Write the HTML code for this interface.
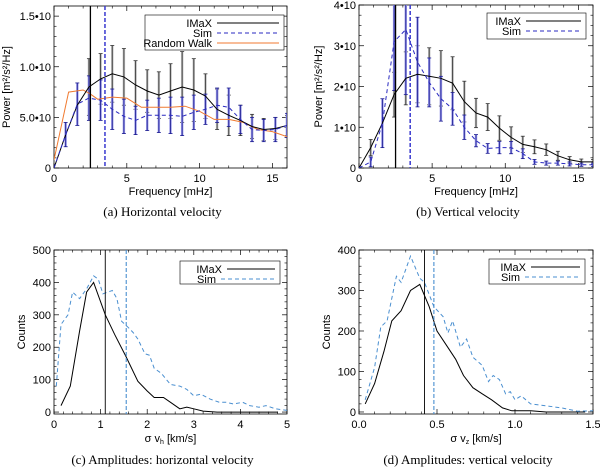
<!DOCTYPE html>
<html><head><meta charset="utf-8"><style>
body{margin:0;background:#fff;}
svg{display:block;font-family:"Liberation Sans",sans-serif;}
.cap{font-family:"Liberation Serif",serif;}
</style></head><body>
<svg id="fig" width="600" height="469" viewBox="0 0 600 469"></svg>
<script>
// Panel a data
const freqA=[0,0.8,1.6,2.4,3.2,4.0,4.8,5.6,6.4,7.2,8.0,8.8,9.6,10.4,11.2,12.0,12.8,13.6,14.4,15.2,16.0];
const imaxA=[0,0.33,0.62,0.80,0.88,0.93,0.90,0.82,0.76,0.72,0.76,0.80,0.77,0.71,0.58,0.52,0.47,0.41,0.38,0.39,0.42];
const imaxAerr=[0,0,0,0.28,0.25,0.28,0.28,0.24,0.21,0.23,0.27,0.35,0.31,0.22,0.2,0.2,0.15,0.12,0.11,0.11,0.1];
const simA=[0,0.33,0.63,0.69,0.67,0.58,0.51,0.47,0.52,0.52,0.52,0.51,0.55,0.58,0.62,0.60,0.48,0.38,0.37,0.38,0.42];
const simAerr=[0,0.12,0.21,0.22,0.2,0.2,0.17,0.14,0.15,0.17,0.18,0.19,0.17,0.15,0.17,0.19,0.14,0.12,0.11,0.12,0.12];
const rwFreq=[0,1,2,2.5,3,4,5,6,7,8,9,10,11,12,13,14,15,16];
const rwA=[0.08,0.75,0.77,0.73,0.68,0.70,0.69,0.60,0.60,0.60,0.61,0.56,0.48,0.48,0.45,0.38,0.36,0.31];
// Panel b data
const imaxB=[0,0.5,1.1,1.8,2.2,2.3,2.25,2.2,2.08,1.63,1.35,1.25,0.98,0.75,0.58,0.52,0.45,0.3,0.2,0.15,0.15];
const imaxBerr=[0,0.2,0,0.55,0.65,0.7,0.7,0.68,0.65,0.5,0.36,0.33,0.3,0.26,0.2,0.17,0.14,0.11,0.08,0.07,0.06];
const simB=[0,0.15,1.1,3.1,3.4,2.6,2.1,1.7,1.45,1.0,0.67,0.48,0.5,0.5,0.35,0.15,0.12,0.12,0.1,0.08,0.08];
const simBerr=[0,0.12,0.6,1.2,1.6,1.1,0.6,0.55,0.4,0.3,0.15,0.12,0.15,0.15,0.12,0.06,0.05,0.05,0.05,0.04,0.04];
// Panel c data
const xImaxC=[0.15,0.35,0.55,0.7,0.85,1.1,1.3,1.55,1.8,2.0,2.15,2.35,2.5,2.7,2.85,3.0,3.2,3.5,4.0,4.8];
const yImaxC=[20,80,250,370,400,300,240,170,95,65,45,45,30,10,15,10,3,0,0,0];
const xSimC=[0.05,0.15,0.3,0.4,0.55,0.7,0.85,0.95,1.05,1.25,1.35,1.45,1.6,1.7,1.8,1.95,2.05,2.15,2.3,2.5,2.7,2.85,3.0,3.15,3.35,3.55,3.7,3.85,4.05,4.2,4.4,4.55,4.75,5.0];
const ySimC=[80,270,300,370,350,380,420,410,365,375,350,280,260,245,225,180,175,135,120,85,80,70,50,55,40,30,30,25,30,20,15,20,10,5];
// Panel d data
const xImaxD=[0.04,0.1,0.16,0.21,0.27,0.33,0.39,0.45,0.5,0.56,0.62,0.67,0.73,0.79,0.85,0.92,0.98,1.1,1.2,1.45];
const yImaxD=[20,70,150,225,250,300,315,260,200,165,130,90,60,45,30,10,3,3,0,0];
const xSimD=[0.04,0.1,0.14,0.18,0.24,0.27,0.33,0.39,0.42,0.48,0.54,0.57,0.6,0.65,0.69,0.73,0.79,0.83,0.86,0.9,0.94,0.97,1.0,1.04,1.1,1.2,1.3,1.4,1.5];
const ySimD=[30,110,210,225,335,320,385,330,320,260,235,195,225,160,180,135,115,75,90,80,45,50,30,40,20,15,10,2,3];

const NS="http://www.w3.org/2000/svg";
const svg=document.getElementById('fig');
function el(tag,attrs,parent){const e=document.createElementNS(NS,tag);for(const k in attrs)e.setAttribute(k,attrs[k]);(parent||svg).appendChild(e);return e;}
function txt(s,x,y,attrs,parent){const t=el('text',Object.assign({x:x,y:y,'font-size':11},attrs),parent);t.textContent=s;return t;}

function axes(P){
  const g=el('g',{});
  
  
  P.sx=v=>P.x0+(v-P.xmin)/(P.xmax-P.xmin)*(P.x1-P.x0);
  P.sy=v=>P.yb-(v-P.ymin)/(P.ymax-P.ymin)*(P.yb-P.yt);
  P.g=g;
  const fr=el('rect',{x:P.x0,y:P.yt,width:P.x1-P.x0,height:P.yb-P.yt,fill:'none',stroke:'#000','stroke-width':0.8},g);
  
  
  P.xticks.forEach((v,i)=>{const x=P.sx(v);
    el('line',{x1:x,x2:x,y1:P.yb,y2:P.yb-5,stroke:'#000','stroke-width':0.7},g);
    el('line',{x1:x,x2:x,y1:P.yt,y2:P.yt+5,stroke:'#000','stroke-width':0.7},g);
    const t=txt(P.xlabels[i],x,P.yb+14,{'text-anchor':'middle'},g);
    
    
  });
  P.xminor.forEach(v=>{const x=P.sx(v);
    el('line',{x1:x,x2:x,y1:P.yb,y2:P.yb-2.5,stroke:'#000','stroke-width':0.6},g);
    el('line',{x1:x,x2:x,y1:P.yt,y2:P.yt+2.5,stroke:'#000','stroke-width':0.6},g);});
  P.yticks.forEach((v,i)=>{const y=P.sy(v);
    el('line',{x1:P.x0,x2:P.x0+5,y1:y,y2:y,stroke:'#000','stroke-width':0.7},g);
    el('line',{x1:P.x1,x2:P.x1-5,y1:y,y2:y,stroke:'#000','stroke-width':0.7},g);
    const t=txt(P.ylabels[i],P.x0-3,y+4,{'text-anchor':'end'},g);
    
    
  });
  P.yminor.forEach(v=>{const y=P.sy(v);
    el('line',{x1:P.x0,x2:P.x0+2.5,y1:y,y2:y,stroke:'#000','stroke-width':0.6},g);
    el('line',{x1:P.x1,x2:P.x1-2.5,y1:y,y2:y,stroke:'#000','stroke-width':0.6},g);});
  const xt=txt(P.xtitle,(P.x0+P.x1)/2,P.yb+P.xtoff,{'text-anchor':'middle'},g);
  if(P.xsub){const s=el('tspan',{'font-size':7,dy:2},xt);s.textContent=P.xsub;const r=el('tspan',{dy:-2},xt);r.textContent=P.xrest;}
  
  
  const yt=txt(P.ytitle,0,0,{'text-anchor':'middle',transform:`translate(${P.ytx},${(P.yt+P.yb)/2}) rotate(-90)`},g);
  
  
  const cp=txt(P.caption,(P.x0+P.x1)/2-8,P.capy,{'text-anchor':'middle','class':'cap','font-size':13},g);
  
  
  const cid='c'+P.name;
  const cl=el('clipPath',{id:cid},g);el('rect',{x:P.x0,y:P.yt,width:P.x1-P.x0,height:P.yb-P.yt},cl);
  P.clip=`url(#${cid})`;
  return P;
}
function line(P,xs,ys,attrs,name){
  const d=xs.map((x,i)=>(i?'L':'M')+P.sx(x).toFixed(1)+','+P.sy(ys[i]).toFixed(1)).join('');
  const p=el('path',Object.assign({d:d,fill:'none','clip-path':P.clip},attrs),P.g);
  
  
}
function errs(P,xs,ys,es,color,light,name){
  xs.forEach((x,i)=>{if(!es[i])return;const X=P.sx(x);
    const g=el('g',{'clip-path':P.clip},P.g);
    
    
    el('line',{x1:X,x2:X,y1:P.sy(ys[i]-es[i]),y2:P.sy(ys[i]+es[i]),stroke:light,'stroke-width':2.4},g);
    el('line',{x1:X,x2:X,y1:P.sy(ys[i]-es[i]),y2:P.sy(ys[i]+es[i]),stroke:color,'stroke-width':0.8},g);
    [ys[i]-es[i],ys[i]+es[i]].forEach(v=>el('line',{x1:X-2,x2:X+2,y1:P.sy(v),y2:P.sy(v),stroke:color,'stroke-width':0.8},g));
  });
}
function vline(P,v,attrs,name){const X=P.sx(v);
  const l=el('line',Object.assign({x1:X,x2:X,y1:P.yt,y2:P.yb},attrs),P.g);
  
  
}
function legend(P,box,entries){
  const g=el('g',{},P.g);
  
  
  el('rect',{x:box[0],y:box[1],width:box[2],height:box[3],fill:'#fff',stroke:'#000','stroke-width':0.6},g);
  entries.forEach((e,i)=>{const y=box[1]+8+i*10;
    const eg=el('g',{},g);
    
    
    txt(e[0],e[3],y+4,{'text-anchor':'end'},eg);
    el('line',Object.assign({x1:e[3]+5,x2:box[0]+box[2]-5,y1:y,y2:y,'stroke-width':1},e[1]),eg);
  });
}
const minorF=[1,2,3,4,6,7,8,9,11,12,13,14,16];

const A=axes({name:'panel-a-horizontal-velocity',x0:54,x1:287,yt:6,yb:168,xmin:0,xmax:16,ymin:0,ymax:1.6,
  xticks:[0,5,10,15],xlabels:['0','5','10','15'],xminor:minorF,
  yticks:[0,0.5,1.0,1.5],ylabels:['0','5.0•10','1.0•10','1.5•10'],yminor:[0.1,0.2,0.3,0.4,0.6,0.7,0.8,0.9,1.1,1.2,1.3,1.4],
  xtitle:'Frequency [mHz]',xtoff:27,ytitle:'Power [m²/s²/Hz]',ytx:10,caption:'(a) Horizontal velocity',capy:216});
errs(A,freqA,imaxA,imaxAerr,'#333','#bbb','imax-error-bar');
errs(A,freqA,simA,simAerr,'#1a1a90','#9a9ae8','sim-error-bar');
line(A,rwFreq,rwA,{stroke:'#f07a30','stroke-width':1},'random-walk-line');
line(A,freqA,imaxA,{stroke:'#000','stroke-width':1},'imax-line');
line(A,freqA,simA,{stroke:'#2a2ac0','stroke-width':1,'stroke-dasharray':'4,3'},'sim-line');
vline(A,2.5,{stroke:'#000','stroke-width':1.3},'imax-mean-line');
vline(A,3.5,{stroke:'#3a3ad0','stroke-width':1.5,'stroke-dasharray':'4,2'},'sim-mean-line');
legend(A,[145,15,139,35],[['IMaX',{stroke:'#000'},0,212],['Sim',{stroke:'#2a2ac0','stroke-dasharray':'4,3'},0,212],['Random Walk',{stroke:'#f07a30'},0,212]]);

const B=axes({name:'panel-b-vertical-velocity',x0:359,x1:593,yt:5,yb:168,xmin:0,xmax:16,ymin:0,ymax:4,
  xticks:[0,5,10,15],xlabels:['0','5','10','15'],xminor:minorF,
  yticks:[0,1,2,3,4],ylabels:['0','1•10','2•10','3•10','4•10'],yminor:[0.25,0.5,0.75,1.25,1.5,1.75,2.25,2.5,2.75,3.25,3.5,3.75],
  xtitle:'Frequency [mHz]',xtoff:27,ytitle:'Power [m²/s²/Hz]',ytx:322,caption:'(b) Vertical velocity',capy:216});
errs(B,freqA,imaxB,imaxBerr,'#333','#bbb','imax-error-bar');
errs(B,freqA,simB,simBerr,'#1a1a90','#9a9ae8','sim-error-bar');
line(B,freqA,imaxB,{stroke:'#000','stroke-width':1},'imax-line');
line(B,freqA,simB,{stroke:'#2a2ac0','stroke-width':1,'stroke-dasharray':'4,3'},'sim-line');
vline(B,2.5,{stroke:'#000','stroke-width':1.3},'imax-mean-line');
vline(B,3.5,{stroke:'#3a3ad0','stroke-width':1.5,'stroke-dasharray':'4,2'},'sim-mean-line');
legend(B,[487,13,99,26],[['IMaX',{stroke:'#000'},0,521],['Sim',{stroke:'#2a2ac0','stroke-dasharray':'4,3'},0,521]]);

const C=axes({name:'panel-c-horizontal-amplitudes',x0:54,x1:287,yt:250,yb:414,xmin:0,xmax:5,ymin:-6,ymax:500,
  xticks:[0,1,2,3,4,5],xlabels:['0','1','2','3','4','5'],xminor:[0.2,0.4,0.6,0.8,1.2,1.4,1.6,1.8,2.2,2.4,2.6,2.8,3.2,3.4,3.6,3.8,4.2,4.4,4.6,4.8],
  yticks:[0,100,200,300,400,500],ylabels:['0','100','200','300','400','500'],yminor:[20,40,60,80,120,140,160,180,220,240,260,280,320,340,360,380,420,440,460,480],
  xtitle:'σ v',xsub:'h',xrest:' [km/s]',xtoff:28,ytitle:'Counts',ytx:25,caption:'(c) Amplitudes: horizontal velocity',capy:464});
line(C,xImaxC,yImaxC,{stroke:'#000','stroke-width':1},'imax-line');
line(C,xSimC,ySimC,{stroke:'#4a8fd0','stroke-width':1,'stroke-dasharray':'4,3'},'sim-line');
vline(C,1.1,{stroke:'#000','stroke-width':0.9},'imax-mean-line');
vline(C,1.55,{stroke:'#4a8fd0','stroke-width':1.1,'stroke-dasharray':'4,2'},'sim-mean-line');
legend(C,[180,261,100,23],[['IMaX',{stroke:'#000'},0,222],['Sim',{stroke:'#4a8fd0','stroke-dasharray':'4,3'},0,216]]);

const D=axes({name:'panel-d-vertical-amplitudes',x0:359,x1:593,yt:250,yb:414,xmin:0,xmax:1.5,ymin:-5,ymax:400,
  xticks:[0,0.5,1.0,1.5],xlabels:['0.0','0.5','1.0','1.5'],xminor:[0.1,0.2,0.3,0.4,0.6,0.7,0.8,0.9,1.1,1.2,1.3,1.4],
  yticks:[0,100,200,300,400],ylabels:['0','100','200','300','400'],yminor:[20,40,60,80,120,140,160,180,220,240,260,280,320,340,360,380],
  xtitle:'σ v',xsub:'z',xrest:' [km/s]',xtoff:28,ytitle:'Counts',ytx:330,caption:'(d) Amplitudes: vertical velocity',capy:464});
line(D,xImaxD,yImaxD,{stroke:'#000','stroke-width':1},'imax-line');
line(D,xSimD,ySimD,{stroke:'#4a8fd0','stroke-width':1,'stroke-dasharray':'4,3'},'sim-line');
vline(D,0.42,{stroke:'#000','stroke-width':0.9},'imax-mean-line');
vline(D,0.48,{stroke:'#4a8fd0','stroke-width':1.1,'stroke-dasharray':'4,2'},'sim-mean-line');
legend(D,[489,259,96,25],[['IMaX',{stroke:'#000'},0,526],['Sim',{stroke:'#4a8fd0','stroke-dasharray':'4,3'},0,520]]);
</script>
</body></html>
